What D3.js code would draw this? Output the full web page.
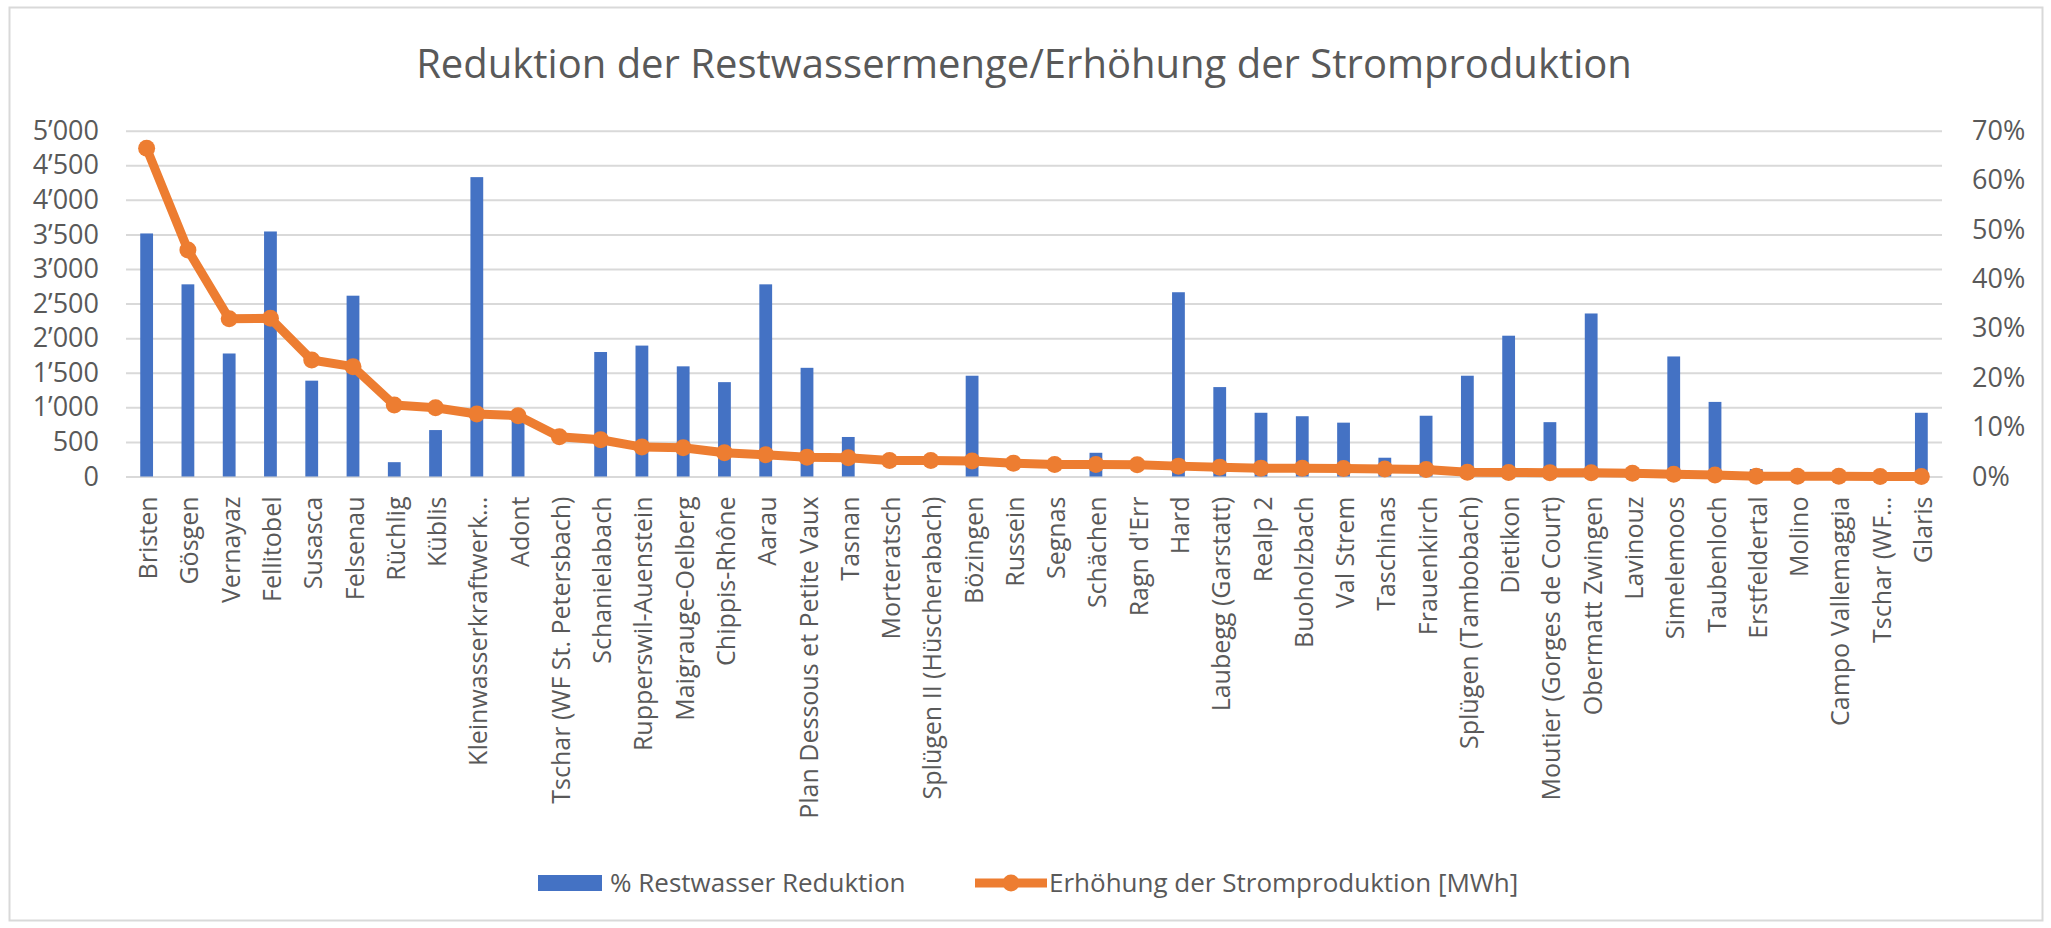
<!DOCTYPE html>
<html>
<head>
<meta charset="utf-8">
<script src="https://cdn.jsdelivr.net/npm/d3@7"></script>
<style>
  body { margin: 0; background: #fff; }
  svg { display: block; font-family: "Open Sans", "Noto Sans", sans-serif; }
</style>
</head>
<body>
<div id="chart"></div>
<script>
// Kraftwerke (Reihenfolge wie im Diagramm)
var kraftwerke = [
    'Bristen', 'Gösgen', 'Vernayaz', 'Fellitobel', 'Susasca', 'Felsenau', 'Rüchlig', 'Küblis',
    'Kleinwasserkraftwerk…', 'Adont', 'Tschar (WF St. Petersbach)', 'Schanielabach',
    'Rupperswil-Auenstein', 'Maigrauge-Oelberg', 'Chippis-Rhône', 'Aarau',
    'Plan Dessous et Petite Vaux', 'Tasnan', 'Morteratsch', 'Splügen II (Hüscherabach)',
    'Bözingen', 'Russein', 'Segnas', 'Schächen', "Ragn d'Err", 'Hard', 'Laubegg (Garstatt)',
    'Realp 2', 'Buoholzbach', 'Val Strem', 'Taschinas', 'Frauenkirch', 'Splügen (Tambobach)',
    'Dietikon', 'Moutier (Gorges de Court)', 'Obermatt Zwingen', 'Lavinouz', 'Simelemoos',
    'Taubenloch', 'Erstfeldertal', 'Molino', 'Campo Vallemaggia', 'Tschar (WF…', 'Glaris'
];

// % Restwasser Reduktion (rechte Achse)
var restwasserReduktion = [
    49.2, 38.9, 24.9, 49.6, 19.4, 36.6, 2.9, 9.4,
    60.6, 12.2, 0, 25.2,
    26.5, 22.3, 19.1, 38.9,
    22.0, 8.0, 0, 0,
    20.4, 0, 0, 4.8, 0, 37.3, 18.1,
    12.9, 12.2, 10.9, 3.8, 12.3, 20.4,
    28.5, 11.0, 33.0, 0, 24.3,
    15.1, 1.5, 0, 0, 0, 12.9
];

// Erhöhung der Stromproduktion [MWh] (linke Achse)
var stromproduktion = [
    4745, 3275, 2280, 2287, 1684, 1588, 1034, 995,
    904, 880, 575, 531,
    425, 415, 343, 314,
    280, 270, 232, 232,
    225, 193, 174, 174, 170, 150, 135,
    121, 118, 115, 110, 100, 60,
    58, 56, 55, 46, 32,
    22, 5, 3, 2, 1, 1
];

var mwhTicks = d3.range(0, 5001, 500);
var prozentTicks = d3.range(0, 0.71, 0.1);

var W = 2051, H = 928;
var margin = { top: 130.7, right: 109, bottom: 451.5, left: 126 };
var plotW = W - margin.left - margin.right;
var plotH = H - margin.top - margin.bottom;

var textColor = '#595959';
var gridColor = '#d9d9d9';
var blue = '#4472C4';
var orange = '#ED7D31';

var svg = d3.select('#chart').append('svg')
    .attr('width', W)
    .attr('height', H);

// Rahmen
svg.append('rect')
    .attr('x', 9.5).attr('y', 7.5)
    .attr('width', 2033).attr('height', 913)
    .attr('fill', '#fff')
    .attr('stroke', gridColor)
    .attr('stroke-width', 2);

// Titel
svg.append('text')
    .attr('x', 1024).attr('y', 78)
    .attr('text-anchor', 'middle')
    .attr('font-size', 40)
    .attr('fill', textColor)
    .text('Reduktion der Restwassermenge/Erhöhung der Stromproduktion');

var g = svg.append('g')
    .attr('transform', `translate(${margin.left},${margin.top})`);

var x = d3.scaleBand()
    .domain(kraftwerke)
    .range([0, plotW])
    .paddingInner(0.69)
    .paddingOuter(0.345);

var yLeft = d3.scaleLinear().domain([0, 5000]).range([plotH, 0]);
var yRight = d3.scaleLinear().domain([0, 0.7]).range([plotH, 0]);

var ch = d3.formatLocale({ decimal: '.', thousands: '’', grouping: [3], currency: ['', ''] });
var fmtMwh = ch.format(',d');
var fmtPct = d3.format('.0%');

// Gitternetz
g.append('g')
    .attr('class', 'grid')
    .call(d3.axisLeft(yLeft).tickValues(mwhTicks).tickSize(-plotW).tickFormat(''))
    .call(a => a.select('.domain').remove())
    .selectAll('line')
    .attr('stroke', gridColor)
    .attr('stroke-width', 2);

// linke Achse
g.append('g')
    .call(d3.axisLeft(yLeft).tickValues(mwhTicks).tickSize(0).tickPadding(27).tickFormat(fmtMwh))
    .call(a => a.select('.domain').remove())
    .selectAll('text')
    .attr('font-size', 27)
    .attr('font-family', '"Open Sans", sans-serif')
    .attr('fill', textColor);

// rechte Achse
g.append('g')
    .attr('transform', `translate(${plotW},0)`)
    .call(d3.axisRight(yRight).tickValues(prozentTicks).tickSize(0).tickPadding(30).tickFormat(fmtPct))
    .call(a => a.select('.domain').remove())
    .selectAll('text')
    .attr('font-size', 27)
    .attr('font-family', '"Open Sans", sans-serif')
    .attr('fill', textColor);

// x-Achse
var xAxis = g.append('g')
    .attr('transform', `translate(0,${plotH})`)
    .call(d3.axisBottom(x).tickSize(0).tickSizeOuter(0));
xAxis.select('.domain')
    .attr('stroke', gridColor)
    .attr('stroke-width', 2);
xAxis.selectAll('text')
    .attr('transform', 'rotate(-90)')
    .attr('x', -20)
    .attr('y', 0)
    .attr('dy', '0.42em')
    .attr('text-anchor', 'end')
    .attr('font-size', 25)
    .attr('font-family', '"Open Sans", sans-serif')
    .attr('fill', textColor);

// Balken
g.selectAll('rect.bar')
    .data(kraftwerke)
    .enter()
    .append('rect')
    .attr('class', 'bar')
    .attr('x', d => x(d))
    .attr('width', x.bandwidth())
    .attr('y', (d, i) => yRight(restwasserReduktion[i] / 100))
    .attr('height', (d, i) => plotH - yRight(restwasserReduktion[i] / 100))
    .attr('fill', blue);

// Linie
var cx = d => x(d) + x.bandwidth() / 2;
var line = d3.line()
    .x((d, i) => cx(kraftwerke[i]))
    .y(d => yLeft(d));

g.append('path')
    .datum(stromproduktion)
    .attr('d', line)
    .attr('fill', 'none')
    .attr('stroke', orange)
    .attr('stroke-width', 9)
    .attr('stroke-linejoin', 'round');

g.selectAll('circle.pt')
    .data(stromproduktion)
    .enter()
    .append('circle')
    .attr('class', 'pt')
    .attr('cx', (d, i) => cx(kraftwerke[i]))
    .attr('cy', d => yLeft(d))
    .attr('r', 8.5)
    .attr('fill', orange);

// Legende
var legend = svg.append('g').attr('transform', 'translate(538,883)');
legend.append('rect')
    .attr('x', 0).attr('y', -8)
    .attr('width', 64).attr('height', 16)
    .attr('fill', blue);
legend.append('text')
    .attr('x', 72).attr('y', 9)
    .attr('font-size', 26)
    .attr('fill', textColor)
    .text('% Restwasser Reduktion');

var leg2 = legend.append('g').attr('transform', 'translate(437,0)');
leg2.append('line')
    .attr('x1', 0).attr('x2', 72)
    .attr('y1', 0).attr('y2', 0)
    .attr('stroke', orange)
    .attr('stroke-width', 9);
leg2.append('circle')
    .attr('cx', 36).attr('cy', 0)
    .attr('r', 8.5)
    .attr('fill', orange);
leg2.append('text')
    .attr('x', 74).attr('y', 9)
    .attr('font-size', 26)
    .attr('fill', textColor)
    .text('Erhöhung der Stromproduktion [MWh]');
</script>
</body>
</html>
